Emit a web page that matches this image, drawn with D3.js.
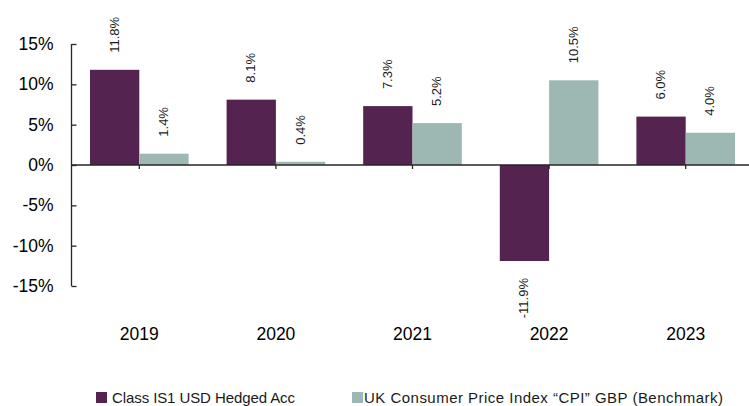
<!DOCTYPE html>
<html><head><meta charset="utf-8">
<script src="https://cdn.jsdelivr.net/npm/d3@7"></script>
<style>body{margin:0;background:#fff}svg{display:block;font-family:Arial,"Liberation Sans",sans-serif}</style>
</head><body><svg id="c" width="749" height="406"></svg>
<script>
const years = ["2019","2020","2021","2022","2023"];
const seriesNames = ["Class IS1 USD Hedged Acc","UK Consumer Price Index \u201cCPI\u201d GBP (Benchmark)"];
const fundValues = [11.8, 8.1, 7.3, -11.9, 6.0];
const benchValues = [1.4, 0.4, 5.2, 10.5, 4.0];
const yTicks = [-15,-10,-5,0,5,10,15];
const colors = ["#54234f","#9db8b3"];

const svg = d3.select("#c");
const y = d3.scaleLinear().domain([-15,15]).range([286,44]);
const x0 = d3.scaleBand().domain(years).range([71,754]).paddingInner(0.278).paddingOuter(0.139);
const x1 = d3.scaleBand().domain([0,1]).range([0,x0.bandwidth()]);
const data = years.map((yr,i)=>({yr, vals:[fundValues[i], benchValues[i]]}));

// bars
const g = svg.append("g");
data.forEach(d=>{
  d.vals.forEach((v,k)=>{
    g.append("rect")
      .attr("x", x0(d.yr)+x1(k))
      .attr("width", x1.bandwidth())
      .attr("y", Math.min(y(v), y(0)))
      .attr("height", Math.abs(y(v)-y(0)))
      .attr("fill", colors[k]);
    const cx = x0(d.yr)+x1(k)+x1.bandwidth()/2;
    const ty = v>=0 ? y(v)-17 : y(v)+17;
    g.append("text")
      .attr("transform", `translate(${cx+4},${ty}) rotate(-90)`)
      .attr("text-anchor", v>=0 ? "start" : "end")
      .attr("font-size", 13)
      .attr("fill", "#1a1a1a")
      .text(v.toFixed(1)+"%");
  });
});

// y axis
const yAxis = svg.append("g").attr("transform","translate(71.5,0)")
  .call(d3.axisLeft(y).tickValues(yTicks).tickSize(-5).tickPadding(18).tickFormat(d=>d+"%"));
yAxis.select(".domain").attr("stroke","#262626").attr("stroke-width",1.3).attr("d", `M-0,${y(15)}H0V${y(-15)}H-0`);
yAxis.selectAll(".tick line").attr("stroke","#262626").attr("stroke-width",1.3);
yAxis.selectAll("text").attr("font-size",17.5).attr("fill","#000").attr("font-family","Arial,'Liberation Sans',sans-serif");

// x axis at zero
const xAxis = svg.append("g").attr("transform",`translate(0,${y(0)})`)
  .call(d3.axisBottom(x0).tickSize(4).tickFormat(""));
xAxis.select(".domain").attr("stroke","#262626").attr("stroke-width",1.5).attr("d","M71,0H749");
xAxis.selectAll(".tick line").attr("stroke","#262626").attr("stroke-width",1.3);

// category labels
svg.append("g").selectAll("text").data(years).join("text")
  .attr("x", d=>x0(d)+x0.bandwidth()/2)
  .attr("y", 339.5)
  .attr("text-anchor","middle")
  .attr("font-size",17.5)
  .attr("fill","#000")
  .text(d=>d);

// legend
const legX = [96, 352];
const legLen = [183, 359];
seriesNames.forEach((n,k)=>{
  svg.append("rect").attr("x",legX[k]).attr("y",392).attr("width",11).attr("height",11).attr("fill",colors[k]);
  svg.append("text").attr("x",legX[k]+(k===0?16:12)).attr("y",402.5)
    .attr("font-size",15).attr("fill","#1a1a1a")
    .attr("textLength",legLen[k]).attr("lengthAdjust","spacing")
    .text(n);
});
</script></body></html>
